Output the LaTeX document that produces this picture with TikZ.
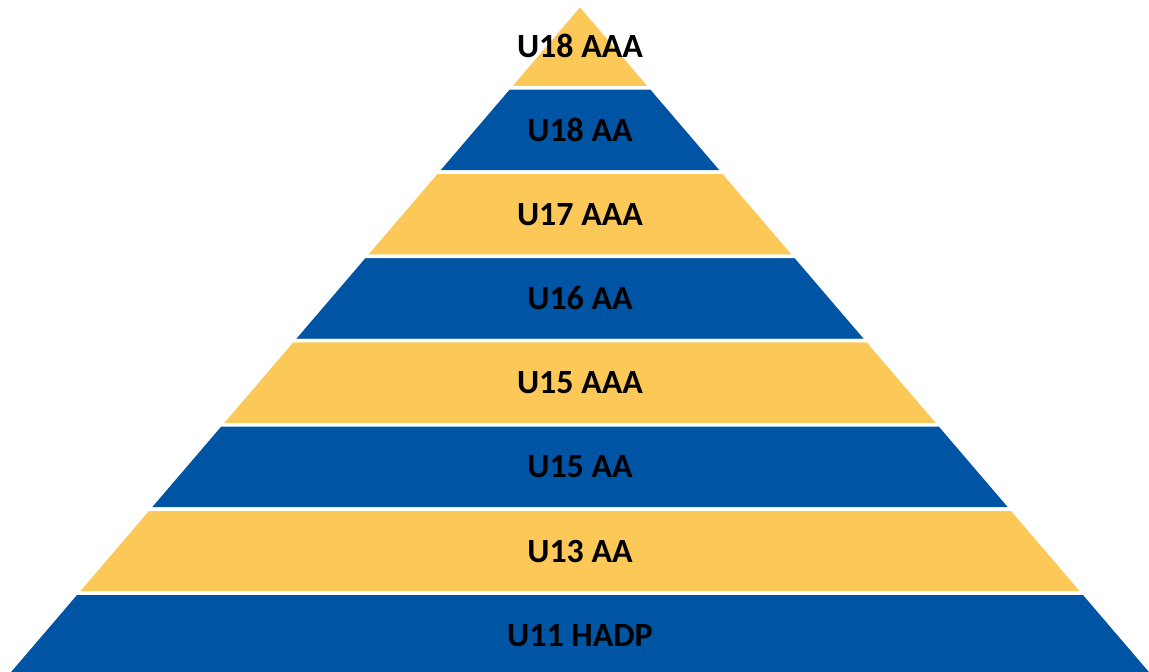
\documentclass[tikz,border=0pt]{standalone}
\usepackage{fontspec}
\setmainfont{Carlito}
\usepackage{xcolor}
\usetikzlibrary{calc}
\definecolor{tiergold}{RGB}{252,201,89}
\definecolor{tierblue}{RGB}{0,84,164}

\begin{document}
\begin{tikzpicture}[x=0.02cm,y=-0.02cm,
    tier/.style={draw=white,line width=0.07cm,line join=miter},
    tierlabel/.style={font=\bfseries\fontsize{19.3}{22}\selectfont,text=black}]
  \useasboundingbox (0,0) rectangle (1149,672);
  \foreach \i/\txt/\col in {0/U18 AAA/tiergold,1/U18 AA/tierblue,2/U17 AAA/tiergold,
      3/U16 AA/tierblue,4/U15 AAA/tiergold,5/U15 AA/tierblue,6/U13 AA/tiergold,7/U11 HADP/tierblue}{
    \pgfmathsetmacro{\yt}{ifthenelse(\i==0,4.5,88+84.2*(\i-1))}
    \pgfmathsetmacro{\yb}{88+84.2*\i}
    \pgfmathsetmacro{\wt}{0.856*(\yt-4.5)}
    \pgfmathsetmacro{\wb}{0.856*(\yb-4.5)}
    \filldraw[tier,fill=\col] ({580-\wt},\yt) -- ({580+\wt},\yt) -- ({580+\wb},\yb) -- ({580-\wb},\yb) -- cycle;
    \node[tierlabel] (tier\i) at (580,{(\yt+\yb)/2}) {\txt};
  }
\end{tikzpicture}
\end{document}
